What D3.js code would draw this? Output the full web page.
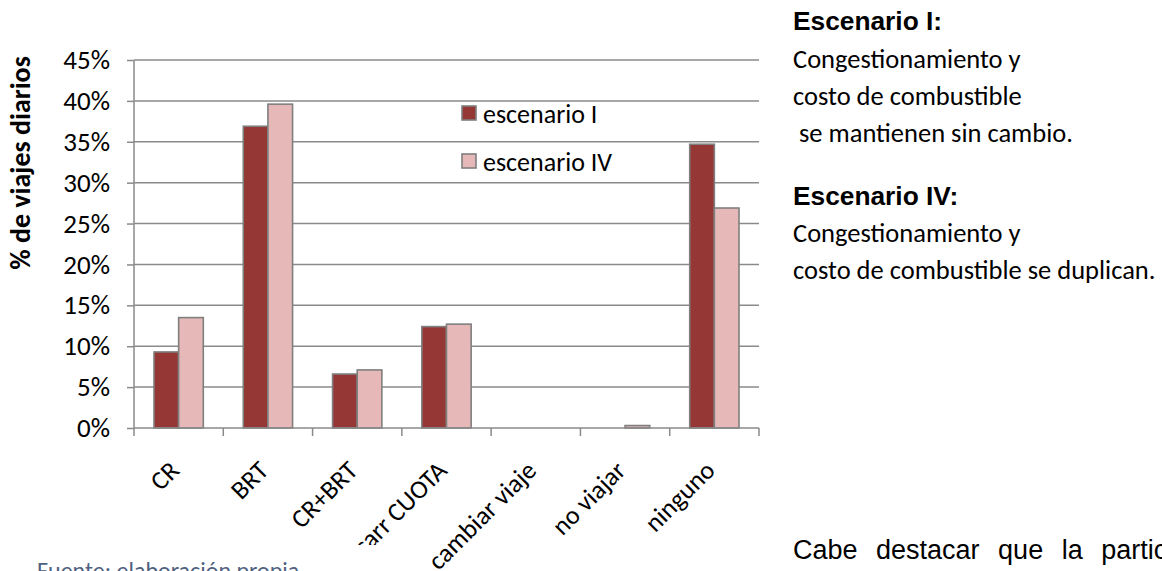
<!DOCTYPE html>
<html>
<head>
<meta charset="utf-8">
<script src="https://cdn.jsdelivr.net/npm/d3@7"></script>
<style>
  html, body { margin: 0; padding: 0; background: #fff; }
  svg { display: block; }
</style>
</head>
<body>
<svg id="chart" width="1162" height="571"></svg>
<script>
// Categories and the two scenario series (share of daily trips)
const categories = ["CR", "BRT", "CR+BRT", "carr CUOTA", "cambiar viaje", "no viajar", "ninguno"];
const seriesNames = ["escenario I", "escenario IV"];
const escenarioI  = [0.093, 0.369, 0.066, 0.124, 0.000, 0.000, 0.347];
const escenarioIV = [0.135, 0.396, 0.071, 0.127, 0.000, 0.003, 0.269];
const yTicks = [0, 0.05, 0.10, 0.15, 0.20, 0.25, 0.30, 0.35, 0.40, 0.45];
const seriesColors = ["#953735", "#e6b9b8"];

const data = categories.map((c, i) => ({ cat: c, values: [escenarioI[i], escenarioIV[i]] }));

const svg = d3.select("#chart");
const calibri = "Carlito, Lato, 'Open Sans', sans-serif";
const arial = "'Liberation Sans', Arial, sans-serif";
const gridColor = "#8a8a8a";

const plot = { left: 134, right: 759, top: 60, bottom: 428 };

const y = d3.scaleLinear().domain([0, 0.45]).range([plot.bottom, plot.top]);
const x = d3.scaleBand().domain(categories).range([plot.left, plot.right])
  .paddingInner(0.448).paddingOuter(0.224);
const xs = d3.scaleBand().domain(seriesNames).range([0, x.bandwidth()]);
const step = x.step();

// horizontal gridlines
svg.append("g").selectAll("line").data(yTicks.slice(1)).join("line")
  .attr("x1", plot.left).attr("x2", plot.right)
  .attr("y1", d => y(d)).attr("y2", d => y(d))
  .attr("stroke", gridColor).attr("stroke-width", 1.5);

// bars
const groups = svg.append("g").selectAll("g").data(data).join("g")
  .attr("transform", d => `translate(${x(d.cat)},0)`);
groups.selectAll("rect").data(d => d.values.map((v, k) => ({ v, k })))
  .join("rect")
  .attr("x", d => xs(seriesNames[d.k]))
  .attr("width", xs.bandwidth())
  .attr("y", d => y(d.v))
  .attr("height", d => plot.bottom - y(d.v))
  .attr("fill", d => seriesColors[d.k])
  .attr("stroke", d => d.v > 0 ? "#7f7f7f" : "none")
  .attr("stroke-width", 1.6);

// y axis
const yAxis = d3.axisLeft(y).tickValues(yTicks).tickFormat(d3.format(".0%"))
  .tickSize(7).tickPadding(17);
const gy = svg.append("g").attr("transform", `translate(${plot.left},0)`).call(yAxis);
gy.select(".domain").attr("stroke", gridColor).attr("stroke-width", 1.5)
  .attr("d", `M-0,${plot.top}V${plot.bottom}`);
gy.selectAll(".tick line").attr("stroke", gridColor).attr("stroke-width", 1.5);
gy.selectAll(".tick text").attr("font-family", calibri).attr("font-size", 27)
  .attr("fill", "#000");

// x axis line and boundary ticks
svg.append("line").attr("x1", plot.left).attr("x2", plot.right)
  .attr("y1", plot.bottom).attr("y2", plot.bottom)
  .attr("stroke", gridColor).attr("stroke-width", 1.5);
svg.append("g").selectAll("line").data(d3.range(categories.length + 1)).join("line")
  .attr("x1", i => plot.left + i * step).attr("x2", i => plot.left + i * step)
  .attr("y1", plot.bottom).attr("y2", plot.bottom + 8)
  .attr("stroke", gridColor).attr("stroke-width", 1.5);

// rotated category labels
svg.append("g").selectAll("text").data(categories).join("text")
  .attr("transform", d => `translate(${x(d) + x.bandwidth() / 2 + 2},${plot.bottom + 44}) rotate(-45)`)
  .attr("text-anchor", "end")
  .attr("font-family", calibri).attr("font-size", 26).attr("fill", "#000")
  .text(d => d);

// y title
svg.append("text")
  .attr("transform", "translate(30,163) rotate(-90)")
  .attr("text-anchor", "middle")
  .attr("font-family", calibri).attr("font-weight", "bold").attr("font-size", 28)
  .attr("fill", "#000")
  .text("% de viajes diarios");

// legend
const legend = svg.append("g").selectAll("g").data(seriesNames).join("g")
  .attr("transform", (d, i) => `translate(462,${106 + i * 48})`);
legend.append("rect").attr("width", 14).attr("height", 14)
  .attr("fill", (d, i) => seriesColors[i]).attr("stroke", "#7f7f7f").attr("stroke-width", 1.6);
legend.append("text").attr("x", 21).attr("y", 17)
  .attr("font-family", calibri).attr("font-size", 26).attr("fill", "#000")
  .text(d => d);

// source note box (covers the bottom-left margin)
svg.append("rect").attr("x", 0).attr("y", 545).attr("width", 400).attr("height", 26).attr("fill", "#fff");
svg.append("text").attr("x", 37).attr("y", 579)
  .attr("font-family", calibri).attr("font-size", 24).attr("fill", "#4f6180")
  .text("Fuente: elaboración propia");

// scenario descriptions
const notes = [
  { t: "Escenario I:", y: 30, bold: true },
  { t: "Congestionamiento y", y: 68 },
  { t: "costo de combustible", y: 105 },
  { t: " se mantienen sin cambio.", y: 142 },
  { t: "Escenario IV:", y: 205, bold: true },
  { t: "Congestionamiento y", y: 242 },
  { t: "costo de combustible se duplican.", y: 279 }
];
svg.append("g").selectAll("text").data(notes).join("text")
  .attr("x", 793).attr("y", d => d.y)
  .attr("xml:space", "preserve")
  .style("white-space", "pre")
  .attr("font-family", d => d.bold ? arial : calibri)
  .attr("font-weight", d => d.bold ? "bold" : "normal")
  .attr("font-size", d => d.bold ? 26.3 : 26.5)
  .attr("fill", "#000")
  .text(d => d.t);

// body text continuing below
svg.append("text").attr("x", 793).attr("y", 559)
  .attr("font-family", arial).attr("font-size", 27).attr("word-spacing", 11)
  .attr("fill", "#000")
  .text("Cabe destacar que la partic");
</script>
</body>
</html>
